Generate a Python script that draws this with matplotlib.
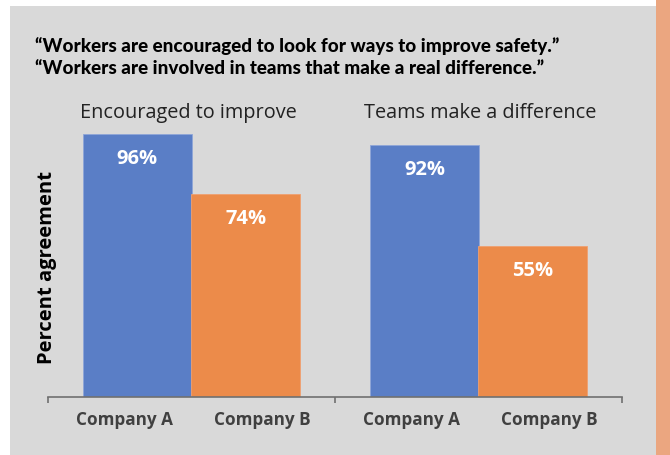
import numpy as np
import matplotlib.pyplot as plt
from matplotlib.patches import Rectangle

# data
groups = ['Encouraged to improve', 'Teams make a difference']
companies = ['Company A', 'Company B']
company_a = [96, 92]
company_b = [74, 55]
title = ('\u201cWorkers are encouraged to look for ways to improve safety.\u201d\n'
         '\u201cWorkers are involved in teams that make a real difference.\u201d')

blue = '#5A7EC6'
orange = '#EC8B4A'
bg = '#D9D9D9'

W, H = 670, 456
fig = plt.figure(figsize=(W / 100, H / 100), dpi=100)
fig.patch.set_facecolor('white')

# background: gray panel + orange strip on the right
bgax = fig.add_axes([0, 0, 1, 1], zorder=-10)
bgax.set_xlim(0, W)
bgax.set_ylim(H, 0)
bgax.axis('off')
bgax.add_patch(Rectangle((10, 7), 646, 449, facecolor=bg, edgecolor='none'))
bgax.add_patch(Rectangle((656, 0), 14, H, facecolor='#EBA680', edgecolor='none'))

fig.text(35 / W, 1 - 57 / H, title, ha='left', va='center', fontsize=13.6,
         fontweight='black', family='Lato', color='black', linespacing=1.35)

# axes: x from px 48 to 622, y baseline at px 398, 100% at px 124
ax = fig.add_axes([48 / W, 1 - 398 / H, 574 / W, 274 / H])
ax.set_facecolor('none')
ax.set_xlim(0, 4)
ax.set_ylim(0, 100)

w = 0.76
x = np.arange(len(groups)) * 2 + 1
xa = x - 0.377
xb = x + 0.377
ax.bar(xa, company_a, w, color=blue, edgecolor='#8FA6D8', linewidth=0.6)
ax.bar(xb, company_b, w, color=orange, edgecolor='#F0A070', linewidth=0.6)

for xs, vals in ((xa, company_a), (xb, company_b)):
    for xi, v in zip(xs, vals):
        ax.annotate(f'{v}%', (xi, v), xytext=(0, -17), textcoords='offset points',
                    ha='center', va='center', color='white', fontsize=14.5,
                    fontweight='bold', family='Open Sans')

for xi, g, dx in zip(x, groups, (-0.02, 0.015)):
    ax.annotate(g, (xi + dx, 100), xytext=(0, 1),
                textcoords='offset points', ha='center', va='bottom', fontsize=14.3,
                family='Open Sans', color='#222222', annotation_clip=False)

# company labels sit a bit wider apart than the bars
for off, c in ((-0.47, companies[0]), (0.49, companies[1])):
    for xi in x:
        ax.annotate(c, (xi + off, 0), xytext=(0, -16), textcoords='offset points',
                    ha='center', va='center', fontsize=12.3, fontweight='bold',
                    family='Open Sans', color='#404040', annotation_clip=False)

for s in ['top', 'right', 'left']:
    ax.spines[s].set_visible(False)
ax.spines['bottom'].set_color('#707070')
ax.spines['bottom'].set_linewidth(1.2)
ax.set_yticks([])
ax.set_xticks([0, 2, 4])
ax.set_xticklabels([])
ax.tick_params(axis='x', length=4, width=1.2, color='#707070', direction='out')

fig.text(47 / W, 1 - 267 / H, 'Percent agreement', rotation=90, ha='center',
         va='center', fontsize=14.5, fontweight='bold', family='Open Sans',
         color='black')

fig.savefig('out.png', dpi=100)
